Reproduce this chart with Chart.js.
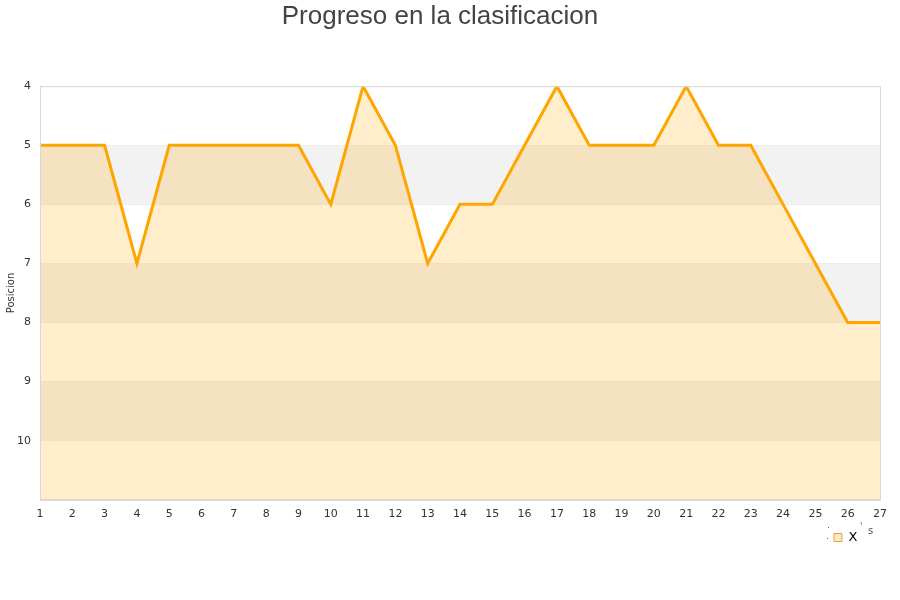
<!DOCTYPE html>
<html>
<head>
<meta charset="utf-8">
<script src="https://cdn.jsdelivr.net/npm/chart.js@4/dist/chart.umd.min.js"></script>
<style>
  html, body { margin: 0; padding: 0; background: #fff; }
  #wrap { width: 900px; height: 600px; }
</style>
</head>
<body>
<div id="wrap"><canvas id="grafico"></canvas></div>
<script>
// DATOS
const jornadas = ["1","2","3","4","5","6","7","8","9","10","11","12","13","14","15","16","17","18","19","20","21","22","23","24","25","26","27"];
const posiciones = [5, 5, 5, 7, 5, 5, 5, 5, 5, 6, 4, 5, 7, 6, 6, 5, 4, 5, 5, 5, 4, 5, 5, 6, 7, 8, 8];
const ticksY = [4, 5, 6, 7, 8, 9, 10];

// bandas alternas del fondo + borde del area
const bandas = {
  id: "bandas",
  beforeDatasetsDraw(chart) {
    const ctx = chart.ctx;
    const area = chart.chartArea;
    const y = chart.scales.y;
    ctx.save();
    ctx.fillStyle = "#f2f2f2";
    for (let v = 5; v < 11; v += 2) {
      const top = y.getPixelForValue(v);
      const bottom = y.getPixelForValue(v + 1);
      ctx.fillRect(area.left, top, area.right - area.left, bottom - top);
    }
    ctx.restore();
  },
  afterDraw(chart) {
    const ctx = chart.ctx;
    const area = chart.chartArea;
    ctx.save();
    ctx.strokeStyle = "#d8d8d8";
    ctx.lineWidth = 1;
    ctx.strokeRect(area.left + 0.5, area.top + 0.5, area.right - area.left, area.bottom - area.top);
    // marquitas sueltas de la leyenda
    const caja = chart.legend.legendHitBoxes[0];
    if (caja) {
      const x0 = caja.left;
      const yc = caja.top + caja.height / 2;
      ctx.fillStyle = "#555";
      ctx.font = "9px 'DejaVu Sans'";
      ctx.textBaseline = "middle";
      ctx.fillText(".", x0 - 8, yc - 1);
      ctx.fillText(".", x0 - 7, yc - 12);
      ctx.fillText("'", x0 + 26, yc - 11);
      ctx.font = "10px 'DejaVu Sans'";
      ctx.fillText("s", x0 + 34, yc - 6);
    }
    ctx.restore();
  }
};

new Chart(document.getElementById("grafico"), {
  type: "line",
  data: {
    labels: jornadas,
    datasets: [{
      label: "X",
      data: posiciones,
      borderColor: "#ffa500",
      backgroundColor: "rgba(255,165,0,0.2)",
      borderWidth: 3,
      pointRadius: 0,
      tension: 0,
      fill: { value: 11 }
    }]
  },
  options: {
    responsive: true,
    maintainAspectRatio: false,
    animation: false,
    layout: { padding: { left: 0, right: 20, top: 1, bottom: 46 } },
    plugins: {
      title: {
        display: true,
        text: "Progreso en la clasificacion",
        color: "#444",
        font: { family: "'Liberation Sans', Arial", size: 26, weight: "normal" },
        padding: { top: 0, bottom: 54 }
      },
      legend: {
        position: "bottom",
        align: "end",
        labels: {
          boxWidth: 8,
          boxHeight: 8,
          padding: 2,
          color: "#222",
          font: { family: "'DejaVu Sans'", size: 13 },
          generateLabels() {
            return [{
              text: "X     ",
              fillStyle: "rgba(255,165,0,0.25)",
              strokeStyle: "#d9a050",
              lineWidth: 1,
              datasetIndex: 0
            }];
          }
        }
      },
      tooltip: { enabled: false }
    },
    scales: {
      x: {
        offset: false,
        grid: { display: false, drawTicks: false },
        border: { color: "#d8d8d8" },
        ticks: {
          color: "#333",
          font: { family: "'DejaVu Sans'", size: 11 },
          maxRotation: 0,
          autoSkip: false,
          padding: 8
        }
      },
      y: {
        reverse: true,
        min: 4,
        max: 11,
        afterBuildTicks(scale) {
          scale.ticks = ticksY.map(v => ({ value: v }));
        },
        afterFit(scale) {
          scale.width = 40;
        },
        grid: { color: "rgba(0,0,0,0.09)", drawTicks: false },
        border: { color: "#d8d8d8" },
        ticks: {
          color: "#333",
          font: { family: "'DejaVu Sans'", size: 11 },
          padding: 9
        },
        title: {
          display: true,
          text: "Posicion",
          color: "#333",
          font: { family: "'DejaVu Sans'", size: 10 },
          padding: { top: 5, bottom: 0 }
        }
      }
    }
  },
  plugins: [bandas]
});
</script>
</body>
</html>
